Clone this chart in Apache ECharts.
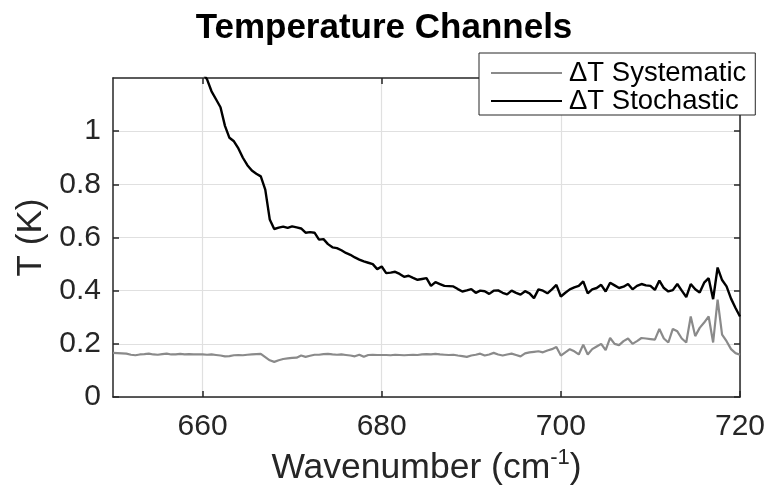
<!DOCTYPE html>
<html>
<head>
<meta charset="utf-8">
<script src="https://cdn.jsdelivr.net/npm/echarts@6/dist/echarts.min.js"></script>
<style>
  html, body { margin: 0; padding: 0; background: #fff; }
  #chart { width: 768px; height: 486px; }
</style>
</head>
<body>
<div id="chart"></div>
<script>
// Wavenumber grid (cm^-1), 0.5 cm^-1 spacing from 650 to 720
const wnStart = 650;
const wnStep = 0.5;

// Temperature uncertainty, systematic component (K)
const systematic = [
  0.166, 0.165, 0.164, 0.163, 0.159, 0.157, 0.160, 0.161, 0.163, 0.160,
  0.159, 0.161, 0.163, 0.160, 0.160, 0.162, 0.160, 0.161, 0.160, 0.160,
  0.160, 0.159, 0.160, 0.158, 0.156, 0.153, 0.154, 0.157, 0.158, 0.157,
  0.159, 0.160, 0.161, 0.162, 0.150, 0.138, 0.132, 0.138, 0.143, 0.145,
  0.147, 0.148, 0.156, 0.151, 0.155, 0.159, 0.159, 0.161, 0.162, 0.160,
  0.159, 0.160, 0.158, 0.156, 0.153, 0.159, 0.151, 0.158, 0.159, 0.158,
  0.158, 0.158, 0.157, 0.159, 0.158, 0.157, 0.158, 0.159, 0.158, 0.160,
  0.161, 0.160, 0.162, 0.160, 0.159, 0.158, 0.159, 0.156, 0.154, 0.151,
  0.156, 0.159, 0.163, 0.156, 0.160, 0.166, 0.160, 0.156, 0.160, 0.163,
  0.158, 0.153, 0.164, 0.168, 0.170, 0.172, 0.168, 0.175, 0.180, 0.188,
  0.156, 0.168, 0.180, 0.172, 0.160, 0.197, 0.160, 0.180, 0.190, 0.200,
  0.176, 0.222, 0.200, 0.195, 0.210, 0.220, 0.200, 0.210, 0.222, 0.220,
  0.218, 0.216, 0.256, 0.220, 0.205, 0.256, 0.247, 0.220, 0.205, 0.303,
  0.229, 0.260, 0.280, 0.303, 0.205, 0.366, 0.235, 0.210, 0.180, 0.165,
  0.159
];

// Temperature uncertainty, stochastic component (K)
const stochastic = [
  1.600, 1.570, 1.540, 1.520, 1.490, 1.470, 1.450, 1.430, 1.410, 1.390,
  1.370, 1.350, 1.340, 1.320, 1.310, 1.290, 1.280, 1.260, 1.250, 1.235,
  1.220, 1.195, 1.150, 1.120, 1.090, 1.020, 0.975, 0.962, 0.935, 0.900,
  0.872, 0.852, 0.840, 0.830, 0.780, 0.668, 0.632, 0.637, 0.641, 0.636,
  0.642, 0.638, 0.634, 0.618, 0.620, 0.618, 0.592, 0.594, 0.575, 0.563,
  0.560, 0.552, 0.542, 0.535, 0.525, 0.517, 0.510, 0.505, 0.500, 0.481,
  0.491, 0.466, 0.468, 0.471, 0.463, 0.452, 0.456, 0.448, 0.441, 0.444,
  0.447, 0.418, 0.432, 0.425, 0.418, 0.417, 0.416, 0.406, 0.397, 0.401,
  0.406, 0.392, 0.400, 0.398, 0.388, 0.400, 0.401, 0.392, 0.386, 0.400,
  0.392, 0.385, 0.398, 0.390, 0.372, 0.405, 0.400, 0.390, 0.405, 0.422,
  0.378, 0.392, 0.405, 0.412, 0.418, 0.435, 0.390, 0.405, 0.410, 0.422,
  0.397, 0.430, 0.420, 0.410, 0.415, 0.425, 0.405, 0.418, 0.425, 0.420,
  0.418, 0.403, 0.438, 0.410, 0.397, 0.402, 0.425, 0.400, 0.376, 0.425,
  0.405, 0.393, 0.430, 0.447, 0.368, 0.487, 0.440, 0.416, 0.370, 0.335,
  0.303
];

// Axis tick labels
const xTicks = [660, 680, 700, 720];
const yTicks = [0, 0.2, 0.4, 0.6, 0.8, 1];

const seriesNames = ['\u0394T Systematic', '\u0394T Stochastic'];

const toPairs = (vals) => vals.map((v, i) => [wnStart + i * wnStep, v]);

const FONT = 'Liberation Sans, Arial, Helvetica, sans-serif';
const INK = '#262626';
const GRAY = '#8a8a8a';

const chart = echarts.init(document.getElementById('chart'), null, { renderer: 'canvas' });

const baseX = {
  type: 'value', min: 650, max: 720,
  axisTick: { customValues: xTicks, inside: true, length: 6, lineStyle: { color: INK, width: 1.5 } },
  axisLine: { show: true, onZero: false, lineStyle: { color: INK, width: 1.5 } }
};
const baseY = {
  type: 'value', min: 0, max: 1.2,
  axisTick: { customValues: yTicks, inside: true, length: 6, lineStyle: { color: INK, width: 1.5 } },
  axisLine: { show: true, onZero: false, lineStyle: { color: INK, width: 1.5 } }
};

chart.setOption({
  animation: false,
  backgroundColor: '#ffffff',
  title: {
    text: 'Temperature Channels',
    left: 'center',
    top: 6,
    textStyle: { fontFamily: FONT, fontWeight: 'bold', fontSize: 35, color: '#000' }
  },
  legend: {
    orient: 'vertical',
    left: 479,
    top: 53,
    itemWidth: 71,
    itemHeight: 2,
    itemGap: 0,
    padding: [6, 9, 0, 12],
    borderColor: INK,
    borderWidth: 1,
    backgroundColor: '#ffffff',
    data: [
      { name: seriesNames[0], icon: 'rect', itemStyle: { color: GRAY } },
      { name: seriesNames[1], icon: 'rect', itemStyle: { color: '#000' } }
    ],
    textStyle: { fontFamily: FONT, fontSize: 27.5, color: '#000', padding: [0, 0, 0, 2] }
  },
  grid: { left: 113, right: 28, top: 78, bottom: 89, containLabel: false, outerBoundsMode: 'none' },
  xAxis: [
    Object.assign({}, baseX, {
      position: 'bottom',
      name: 'Wavenumber (cm{sup|-1})',
      nameLocation: 'middle',
      nameGap: 50,
      nameTextStyle: {
        fontFamily: FONT, fontSize: 35.5, color: INK,
        rich: { sup: { fontFamily: FONT, fontSize: 22, color: INK, padding: [0, 0, 20, 0] } }
      },
      axisLabel: { customValues: xTicks, fontFamily: FONT, fontSize: 30, color: INK, margin: 15 },
      splitLine: { show: true, lineStyle: { color: '#e0e0e0', width: 1.2 } }
    }),
    Object.assign({}, baseX, {
      position: 'top',
      axisLabel: { show: false },
      splitLine: { show: false }
    })
  ],
  yAxis: [
    Object.assign({}, baseY, {
      position: 'left',
      name: 'T (K)',
      nameLocation: 'middle',
      nameGap: 61,
      nameTextStyle: { fontFamily: FONT, fontSize: 35, color: INK },
      axisLabel: { customValues: yTicks, fontFamily: FONT, fontSize: 30, color: INK, margin: 12,
        formatter: (v) => String(Math.round(v * 10) / 10) },
      splitLine: { show: true, lineStyle: { color: '#e0e0e0', width: 1.2 } }
    }),
    Object.assign({}, baseY, {
      position: 'right',
      axisLabel: { show: false },
      splitLine: { show: false }
    })
  ],
  series: [
    {
      name: seriesNames[0], type: 'line', xAxisIndex: 0, yAxisIndex: 0,
      data: toPairs(systematic), symbol: 'none', clip: true,
      lineStyle: { color: GRAY, width: 2.2 }, itemStyle: { color: GRAY }, z: 3
    },
    {
      name: seriesNames[1], type: 'line', xAxisIndex: 0, yAxisIndex: 0,
      data: toPairs(stochastic), symbol: 'none', clip: true,
      lineStyle: { color: '#000000', width: 2.4 }, itemStyle: { color: '#000000' }, z: 4
    }
  ]
});
</script>
</body>
</html>
